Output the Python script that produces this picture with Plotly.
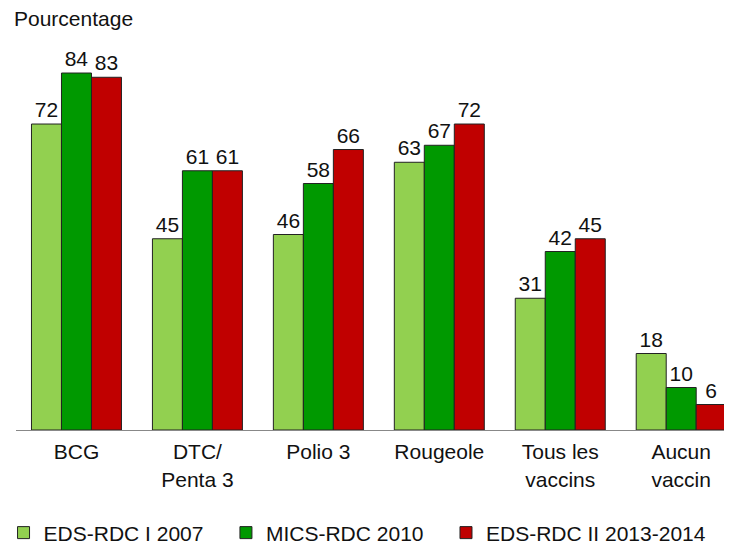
import plotly.graph_objects as go

categories = ["BCG", "DTC/<br>Penta 3", "Polio 3", "Rougeole", "Tous les<br>vaccins", "Aucun<br>vaccin"]
eds_2007 = [72, 45, 46, 63, 31, 18]
mics_2010 = [84, 61, 58, 67, 42, 10]
eds_2013 = [83, 61, 66, 72, 45, 6]

NB = "\u00a0"
series = [
    ("EDS-RDC I 2007" + NB * 3, eds_2007, "#92D050"),
    ("MICS-RDC 2010" + NB * 3, mics_2010, "#009900"),
    ("EDS-RDC II 2013-2014", eds_2013, "#C00000"),
]

FONT = "Liberation Sans, Arial"

fig = go.Figure()
for name, vals, color in series:
    fig.add_trace(go.Bar(
        name=name, x=categories, y=vals,
        marker=dict(color=color, line=dict(color="#222222", width=1)),
        text=[str(v) for v in vals], textposition="outside",
        textfont=dict(size=21, color="#111111", family=FONT),
        cliponaxis=False,
    ))

# page is drawn with an 8px body offset; figure sized to the visible area
fig.update_layout(
    width=724, height=537,
    margin=dict(l=7.5, r=0, t=0, b=115, autoexpand=False),
    barmode="group", bargap=0.256, bargroupgap=0,
    plot_bgcolor="white", paper_bgcolor="white",
    font=dict(family=FONT, size=21, color="#111111"),
    xaxis=dict(range=[-0.5, 5.42], showline=True, linecolor="#888888", linewidth=1,
               ticks="", tickfont=dict(size=21), showgrid=False, ticklabelstandoff=3),
    yaxis=dict(range=[0, 99.3], visible=False, showgrid=False),
    legend=dict(orientation="h", x=-0.0174, xref="paper", xanchor="left",
                y=-0.244, yref="paper", yanchor="middle",
                font=dict(size=21), itemwidth=30, traceorder="normal"),
    annotations=[dict(text="Pourcentage", x=0, xref="paper", xanchor="left", xshift=-4,
                      y=1, yref="paper", yanchor="top", yshift=3, showarrow=False,
                      font=dict(size=21))],
)

fig.write_html("out.html")
